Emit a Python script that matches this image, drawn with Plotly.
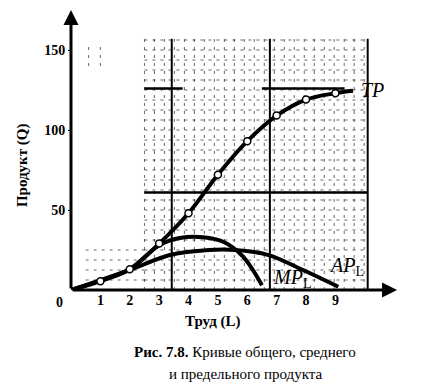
import plotly.graph_objects as go
import numpy as np

# ---- data ----
L_tp = [0, 1, 2, 3, 4, 5, 6, 7, 8, 9, 9.6]
Q_tp = [0, 5.5, 13, 29, 48, 72, 93, 109, 119, 123, 124.5]
L_tp_pts = [1, 2, 3, 4, 5, 6, 7, 8, 9]
Q_tp_pts = [5.5, 13, 29, 48, 72, 93, 109, 119, 123]

L_mp = [0, 1, 2, 3, 3.7, 4.5, 5.2, 5.85, 6.5]
Q_mp = [0, 6, 13, 28, 32.5, 33, 30, 21, 3]

L_ap = [0, 1, 2, 3.4, 4.7, 5.6, 6.7, 7.9, 9.1]
Q_ap = [0, 6, 12.5, 22, 25, 25, 22, 12.5, 2]

x_ticks = [1, 2, 3, 4, 5, 6, 7, 8, 9]
y_ticks = [50, 100, 150]

FONT = "Liberation Serif"

fig = go.Figure()

# graph-paper background (scan texture)
shapes = []
grid_col = "rgba(0,0,0,0.6)"
gdash = "3px,5px"
for gx in np.arange(2.5, 10.15, 0.34):
    shapes.append(dict(type="line", x0=gx, x1=gx, y0=0, y1=157, xref="x", yref="y",
                       line=dict(color=grid_col, width=1, dash=gdash), layer="below"))
for gy in np.arange(6.25, 157, 6.25):
    shapes.append(dict(type="line", x0=2.5, x1=10.1, y0=gy, y1=gy, xref="x", yref="y",
                       line=dict(color=grid_col, width=1, dash=gdash), layer="below"))
for gy in np.arange(6.25, 31, 6.25):
    shapes.append(dict(type="line", x0=0.5, x1=2.5, y0=gy, y1=gy, xref="x", yref="y",
                       line=dict(color=grid_col, width=1, dash=gdash), layer="below"))
for gx in [0.6, 1.0]:
    shapes.append(dict(type="line", x0=gx, x1=gx, y0=140, y1=155, xref="x", yref="y",
                       line=dict(color=grid_col, width=1, dash=gdash), layer="below"))
# heavy graph-paper lines
for gx in [3.43, 6.77, 10.1]:
    shapes.append(dict(type="line", x0=gx, x1=gx, y0=0, y1=157, xref="x", yref="y",
                       line=dict(color="black", width=2), layer="below"))
for (x0, x1, gy) in [(2.5, 3.8, 126), (6.5, 9.3, 126), (2.5, 10.1, 61)]:
    shapes.append(dict(type="line", x0=x0, x1=x1, y0=gy, y1=gy, xref="x", yref="y",
                       line=dict(color="black", width=2.5), layer="below"))

fig.add_trace(go.Scatter(x=L_ap, y=Q_ap, mode="lines", line=dict(color="black", width=4, shape="spline"),
                         hoverinfo="skip", showlegend=False))
fig.add_trace(go.Scatter(x=L_mp, y=Q_mp, mode="lines", line=dict(color="black", width=4, shape="spline"),
                         hoverinfo="skip", showlegend=False))
fig.add_trace(go.Scatter(x=L_tp, y=Q_tp, mode="lines", line=dict(color="black", width=4, shape="spline"),
                         hoverinfo="skip", showlegend=False))
fig.add_trace(go.Scatter(x=L_tp_pts, y=Q_tp_pts, mode="markers",
                         marker=dict(symbol="circle", size=7, color="white", line=dict(color="black", width=1.5)),
                         hoverinfo="skip", showlegend=False))

def txt(x, y, text, size=15, ref="paper", **kw):
    d = dict(x=x, y=y, xref="x" if ref == "data" else "paper", yref="y" if ref == "data" else "paper",
             text=text, showarrow=False, xanchor=kw.pop("xanchor", "center"), yanchor="middle",
             font=dict(family=FONT, size=size, color="black"))
    d.update(kw)
    return d

annotations = [
    # axis arrows
    dict(x=11.1, y=0, ax=0, ay=0, xref="x", yref="y", axref="x", ayref="y", text="",
         showarrow=True, arrowhead=2, arrowsize=1, arrowwidth=3, arrowcolor="black"),
    dict(x=0, y=175, ax=0, ay=0, xref="x", yref="y", axref="x", ayref="y", text="",
         showarrow=True, arrowhead=2, arrowsize=1, arrowwidth=3, arrowcolor="black"),
    # curve labels
    txt(10.25, 125, "<i>TP</i>", size=20, ref="data"),
    txt(8.72, 15, "<i>AP</i><sub>L</sub>", size=20, ref="data", xanchor="left"),
    txt(6.82, 7, "<i>MP</i><sub>L</sub>", size=20, ref="data", xanchor="left"),
    # origin label
    txt(-0.036, -0.043, "<b>0</b>", size=14),
    # axis titles and caption
    txt(0.43, -0.114, "<b>Труд (L)</b>"),
    txt(-0.149, 0.446, "<b>Продукт (Q)</b>", textangle=-90),
    txt(0.53, -0.221, "<b>Рис. 7.8.</b> Кривые общего, среднего"),
    txt(0.53, -0.30, "и предельного продукта"),
]

fig.update_layout(
    width=406, height=375,
    margin=dict(l=63, r=14, t=2, b=93),
    paper_bgcolor="white", plot_bgcolor="white",
    shapes=shapes, annotations=annotations,
    xaxis=dict(range=[0, 11.2], tickvals=x_ticks, ticktext=[f"<b>{v}</b>" for v in x_ticks],
               showgrid=False, zeroline=False, showline=False, ticks="",
               tickfont=dict(family=FONT, size=14, color="black")),
    yaxis=dict(range=[0, 175], tickvals=y_ticks, ticktext=[f"<b>{v}</b>" for v in y_ticks],
               showgrid=False, zeroline=False, showline=False, ticks="outside", ticklen=2,
               tickcolor="black", tickfont=dict(family=FONT, size=14, color="black")),
)

fig.write_html("out.html")
